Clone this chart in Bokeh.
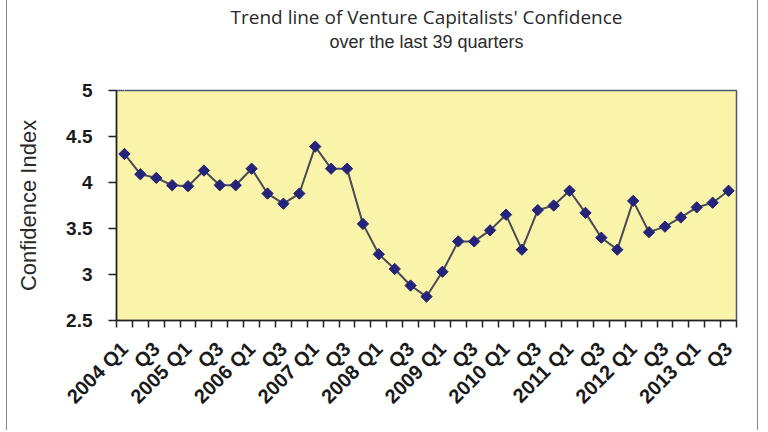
import math
from bokeh.plotting import figure
from bokeh.models import FixedTicker, Range1d, ColumnDataSource, Title, LinearAxis
from bokeh.embed import file_html
from bokeh.resources import INLINE

# Confidence index per quarter, 2004 Q1 .. 2013 Q3 (39 quarters)
confidence = [4.31, 4.09, 4.05, 3.97, 3.96, 4.13, 3.97, 3.97, 4.15, 3.88,
              3.77, 3.88, 4.39, 4.15, 4.15, 3.55, 3.22, 3.06, 2.88, 2.76,
              3.03, 3.36, 3.36, 3.48, 3.65, 3.27, 3.70, 3.75, 3.91, 3.67,
              3.40, 3.27, 3.80, 3.46, 3.52, 3.62, 3.73, 3.78, 3.91]

# every second quarter is labelled
tick_labels = ["2004 Q1", "Q3", "2005 Q1", "Q3", "2006 Q1", "Q3", "2007 Q1", "Q3",
               "2008 Q1", "Q3", "2009 Q1", "Q3", "2010 Q1", "Q3", "2011 Q1", "Q3",
               "2012 Q1", "Q3", "2013 Q1", "Q3"]

y_ticks = [2.5, 3, 3.5, 4, 4.5, 5]
y_tick_labels = ["2.5", "3", "3.5", "4", "4.5", "5"]

n = len(confidence)
xs = [i + 0.5 for i in range(n)]
src = ColumnDataSource(data=dict(x=xs, y=confidence))

p = figure(width=752, height=430, output_backend="svg", toolbar_location=None,
           x_range=Range1d(0, n), y_range=Range1d(2.5, 5),
           min_border_left=109, min_border_right=23, min_border_top=90,
           min_border_bottom=110)
p.styles = {"margin-left": "6px",
            "border-left": "1px solid #8a8a8a", "border-right": "1px solid #8a8a8a"}

p.background_fill_color = "#FAF4AA"
p.border_fill_color = "white"
p.outline_line_color = "#4a5878"
p.outline_line_width = 1.5
p.grid.visible = False

ink = "#2a2a2a"
xa = p.below[0]
ya = p.left[0]

# blank spacer (white tick, no label) between the titles and the frame
spacer = LinearAxis(ticker=FixedTicker(ticks=[0.5], minor_ticks=[]),
                    axis_line_color=None,
                    major_tick_line_color="white", minor_tick_line_color=None,
                    major_tick_out=39, major_tick_in=0, minor_tick_out=0,
                    minor_tick_in=0, major_label_standoff=0,
                    major_label_overrides={0.5: ""},
                    major_label_text_font_size="1px")
p.add_layout(spacer, "above")

sub = Title(text="over the last 39 quarters", align="center", offset=-6,
            text_font="Liberation Sans", text_font_size="18px",
            text_font_style="normal", text_color=ink, standoff=0)
main = Title(text="Trend line of Venture Capitalists' Confidence", align="center",
             offset=-6, text_font="Open Sans", text_font_size="19px",
             text_font_style="normal", text_color=ink, standoff=0)
p.add_layout(sub, "above")
p.add_layout(main, "above")

# y axis
ya.ticker = FixedTicker(ticks=y_ticks)
ya.major_label_overrides = {t: l for t, l in zip(y_ticks, y_tick_labels)}
ya.axis_label = "Confidence Index"
ya.axis_label_text_font = "Liberation Sans"
ya.axis_label_text_font_size = "22px"
ya.axis_label_text_font_style = "normal"
ya.axis_label_text_color = ink
ya.axis_label_standoff = 22
ya.major_label_text_font = "Liberation Sans"
ya.major_label_text_font_size = "19px"
ya.major_label_text_font_style = "bold"
ya.major_label_text_color = "#1a1a1a"
ya.major_tick_out = 8
ya.major_tick_in = 0
ya.minor_tick_out = 0
ya.minor_tick_in = 0
ya.major_label_standoff = 16
ya.axis_line_color = "#222222"
ya.axis_line_width = 1.5
ya.major_tick_line_color = "#222222"
ya.major_tick_line_width = 1.5

# x axis
label_pos = [xs[i] for i in range(0, n, 2)]
xa.ticker = FixedTicker(ticks=label_pos, minor_ticks=list(range(0, n + 1)))
xa.major_label_overrides = {t: l for t, l in zip(label_pos, tick_labels)}
xa.major_label_orientation = math.pi / 4
xa.major_label_text_font = "Liberation Sans"
xa.major_label_text_font_size = "20px"
xa.major_label_text_font_style = "bold"
xa.major_label_text_color = "#1a1a1a"
xa.major_label_standoff = 18
xa.major_tick_out = 0
xa.major_tick_in = 0
xa.minor_tick_out = 7
xa.minor_tick_in = 0
xa.minor_tick_line_color = "#222222"
xa.minor_tick_line_width = 1.5
xa.axis_line_color = "#222222"
xa.axis_line_width = 1.5

p.line("x", "y", source=src, line_color="#4a4a55", line_width=2)
p.scatter("x", "y", source=src, marker="square", angle=math.pi / 4, size=8,
          fill_color="#24247a", line_color="#24247a")

open("out.html", "w").write(file_html(p, INLINE))
